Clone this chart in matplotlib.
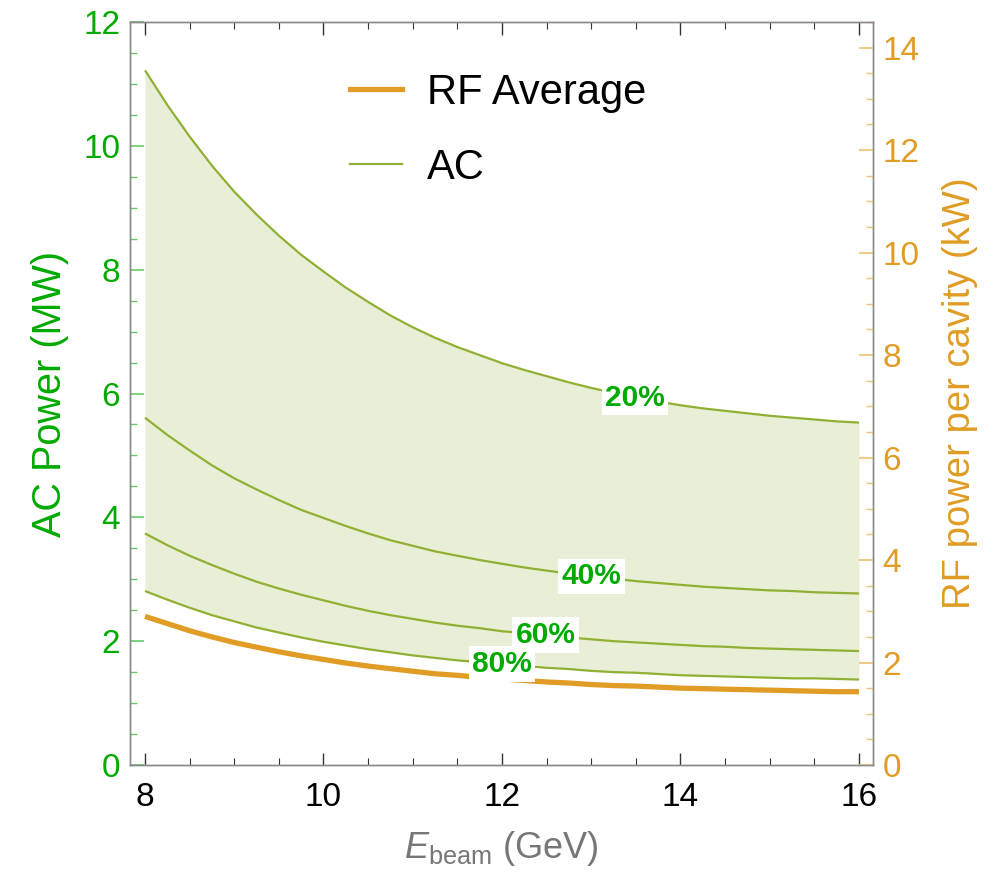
import matplotlib
matplotlib.use("Agg")
import matplotlib.pyplot as plt
from matplotlib.lines import Line2D
from matplotlib.ticker import MultipleLocator

plt.rcParams["font.family"] = ["Liberation Sans", "DejaVu Sans"]
plt.rcParams["mathtext.fontset"] = "custom"
plt.rcParams["mathtext.rm"] = "Liberation Sans"
plt.rcParams["mathtext.it"] = "Liberation Sans:italic"

# Beam energy (GeV)
e_beam = [8.0, 8.25, 8.5, 8.75, 9.0, 9.25, 9.5, 9.75, 10.0, 10.25, 10.5, 10.75,
          11.0, 11.25, 11.5, 11.75, 12.0, 12.25, 12.5, 12.75, 13.0, 13.25, 13.5,
          13.75, 14.0, 14.25, 14.5, 14.75, 15.0, 15.25, 15.5, 15.75, 16.0]

# AC wall-plug power (MW) for several RF source efficiencies
ac_20 = [11.22, 10.66, 10.15, 9.68, 9.26, 8.89, 8.55, 8.24, 7.97, 7.71, 7.48, 7.26,
         7.07, 6.90, 6.75, 6.62, 6.49, 6.38, 6.28, 6.18, 6.09, 6.01, 5.94,
         5.87, 5.81, 5.76, 5.72, 5.68, 5.64, 5.61, 5.58, 5.55, 5.53]
ac_40 = [5.61, 5.33, 5.08, 4.84, 4.63, 4.45, 4.28, 4.12, 3.99, 3.86, 3.74, 3.63,
         3.54, 3.45, 3.38, 3.31, 3.25, 3.19, 3.14, 3.09, 3.05, 3.01, 2.97,
         2.94, 2.91, 2.88, 2.86, 2.84, 2.82, 2.81, 2.79, 2.78, 2.77]
ac_60 = [3.74, 3.55, 3.38, 3.23, 3.09, 2.96, 2.85, 2.75, 2.66, 2.57, 2.49, 2.42,
         2.36, 2.30, 2.25, 2.21, 2.16, 2.13, 2.09, 2.06, 2.03, 2.00, 1.98,
         1.96, 1.94, 1.92, 1.91, 1.89, 1.88, 1.87, 1.86, 1.85, 1.84]
ac_80 = [2.81, 2.67, 2.54, 2.42, 2.32, 2.22, 2.14, 2.06, 1.99, 1.93, 1.87, 1.82,
         1.77, 1.73, 1.69, 1.66, 1.62, 1.60, 1.57, 1.55, 1.52, 1.50, 1.49,
         1.47, 1.45, 1.44, 1.43, 1.42, 1.41, 1.40, 1.40, 1.39, 1.38]

# Average RF power per cavity (kW)
rf_avg_kw = [2.90, 2.76, 2.62, 2.50, 2.39, 2.30, 2.21, 2.13, 2.06, 1.99, 1.93, 1.88,
             1.83, 1.78, 1.75, 1.71, 1.68, 1.65, 1.62, 1.60, 1.57, 1.55, 1.54,
             1.52, 1.50, 1.49, 1.48, 1.47, 1.46, 1.45, 1.44, 1.43, 1.43]

# Contour-style efficiency labels: text, energy, AC power
eff_labels = ["20%", "40%", "60%", "80%"]
eff_label_e = [13.49, 13.0, 12.49, 12.0]
eff_label_p = [5.93, 3.05, 2.10, 1.63]

AC_COLOR = "#8fb032"
FILL_COLOR = "#e9efd6"
RF_COLOR = "#e09c24"
GREEN_TEXT = "#00aa00"
GREEN_TICK = "#66cc66"
ORANGE_TICK = "#f0c070"
SPINE = "#888888"

fig = plt.figure(figsize=(9.95, 8.73), dpi=100)
ax = fig.add_axes([130 / 995, 108 / 873, 743 / 995, 743 / 873])
ax2 = ax.twinx()

ax.fill_between(e_beam, ac_80, ac_20, color=FILL_COLOR, lw=0, zorder=1)
for series in (ac_20, ac_40, ac_60, ac_80):
    ax.plot(e_beam, series, color=AC_COLOR, lw=1.6, zorder=2,
            solid_capstyle="butt", solid_joinstyle="round")

ax2.plot(e_beam, rf_avg_kw, color=RF_COLOR, lw=3.8, zorder=2,
         solid_capstyle="butt", solid_joinstyle="round")

for txt, ex, py in zip(eff_labels, eff_label_e, eff_label_p):
    ax2.text(ex, py, txt, transform=ax.transData, ha="center", va="center",
             fontsize=21.5, fontweight="bold", color=GREEN_TEXT, zorder=5,
             bbox=dict(boxstyle="square,pad=0.12", fc="white", ec="none"))

ax.set_xlim(7.832, 16.157)
ax.set_ylim(0, 12)
ax2.set_ylim(0, 14.5)

ax.xaxis.set_major_locator(MultipleLocator(2))
ax.xaxis.set_minor_locator(MultipleLocator(0.5))
ax.yaxis.set_major_locator(MultipleLocator(2))
ax.yaxis.set_minor_locator(MultipleLocator(0.5))
ax2.yaxis.set_major_locator(MultipleLocator(2))
ax2.yaxis.set_minor_locator(MultipleLocator(0.5))

for a in (ax, ax2):
    for s in a.spines.values():
        s.set_color(SPINE)
        s.set_linewidth(1.0)

ax.tick_params(axis="x", which="both", direction="in", top=True, bottom=True,
               color="#333333", labelsize=24, labelcolor="black", pad=12)
ax.tick_params(axis="x", which="major", length=9, width=1.0)
ax.tick_params(axis="x", which="minor", length=5, width=0.8)
ax.tick_params(axis="y", which="both", direction="in", left=True, right=False,
               color=GREEN_TICK, labelsize=24, labelcolor=GREEN_TEXT, pad=7)
ax.tick_params(axis="y", which="major", length=10, width=1.2)
ax.tick_params(axis="y", which="minor", length=5, width=1.0)
ax2.tick_params(axis="y", which="both", direction="in", right=True, left=False,
                color=ORANGE_TICK, labelsize=24, labelcolor=RF_COLOR, pad=7)
ax2.tick_params(axis="y", which="major", length=10, width=1.2)
ax2.tick_params(axis="y", which="minor", length=5, width=1.0)

ax.set_ylabel("AC Power (MW)", fontsize=28.5, color=GREEN_TEXT, labelpad=10)
ax2.set_ylabel("RF power per cavity (kW)", fontsize=27.5, color=RF_COLOR,
               labelpad=16)
ax.set_xlabel(r"$\mathit{E}_{\mathrm{beam}}$ (GeV)", fontsize=26,
              color="#777777", labelpad=12)

handles = [Line2D([], [], color=RF_COLOR, lw=3.8),
           Line2D([], [], color=AC_COLOR, lw=1.6)]
ax2.legend(handles, ["RF Average", "AC"], loc="upper left",
           bbox_to_anchor=(350 / 995, 1 - 73 / 873), bbox_transform=fig.transFigure,
           frameon=False, fontsize=30, handlelength=1.24, handletextpad=0.6,
           labelspacing=0.83, borderpad=0, borderaxespad=0)

fig.savefig("out.png", dpi=100)
